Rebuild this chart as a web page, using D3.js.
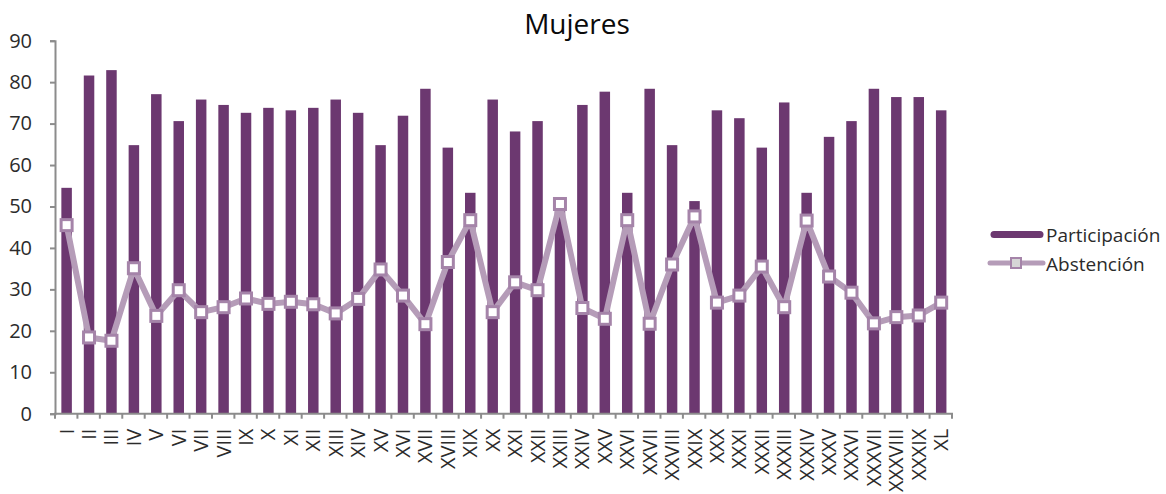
<!DOCTYPE html>
<html>
<head>
<meta charset="utf-8">
<script src="https://cdn.jsdelivr.net/npm/d3@7"></script>
<style>
  html, body { margin: 0; padding: 0; background: #fff; }
  svg { display: block; font-family: "Open Sans", "Noto Sans", sans-serif; }
</style>
</head>
<body>
<svg id="chart" width="1166" height="494"></svg>
<script>
// Distritos electorales (I–XL)
const districts = ["I","II","III","IV","V","VI","VII","VIII","IX","X",
  "XI","XII","XIII","XIV","XV","XVI","XVII","XVIII","XIX","XX",
  "XXI","XXII","XXIII","XXIV","XXV","XXVI","XXVII","XXVIII","XXIX","XXX",
  "XXXI","XXXII","XXXIII","XXXIV","XXXV","XXXVI","XXXVII","XXXVIII","XXXIX","XL"];

// Participación (%) de mujeres por distrito
const participacion = [54.5, 81.6, 82.9, 64.8, 77.1, 70.6, 75.8, 74.5, 72.6, 73.8,
  73.2, 73.8, 75.8, 72.6, 64.8, 71.9, 78.4, 64.2, 53.3, 75.8,
  68.1, 70.6, 49.4, 74.5, 77.7, 53.3, 78.4, 64.8, 51.3, 73.2,
  71.3, 64.2, 75.1, 53.3, 66.8, 70.6, 78.4, 76.4, 76.4, 73.2];

// Abstención (%) de mujeres por distrito
const abstencion = [45.5, 18.4, 17.6, 35.1, 23.6, 29.8, 24.5, 25.7, 27.8, 26.5,
  27.0, 26.4, 24.2, 27.7, 34.8, 28.5, 21.6, 36.6, 46.7, 24.5,
  31.7, 29.8, 50.6, 25.5, 22.9, 46.7, 21.7, 36.0, 47.6, 26.8,
  28.5, 35.5, 25.7, 46.6, 33.1, 29.2, 21.8, 23.3, 23.7, 26.8];

const yTicks = [0, 10, 20, 30, 40, 50, 60, 70, 80, 90];
const seriesNames = ["Participación", "Abstención"];
const title = "Mujeres";

const colors = { bar: "#6c3870", line: "#b59cb8", marker: "#a584a9", axis: "#8c8c8c", text: "#2b2b2b" };

const svg = d3.select("#chart");
const plot = { left: 55, right: 952, top: 40.7, bottom: 413.7 };

const x = d3.scaleBand().domain(districts).range([plot.left, plot.right]).paddingInner(0).paddingOuter(0);
const y = d3.scaleLinear().domain([0, 90]).range([plot.bottom, plot.top]);
const cx = d => x(d) + x.bandwidth() / 2 + 0.4;

const barW = 10.5;

// Barras de participación
svg.append("g")
  .selectAll("rect")
  .data(participacion)
  .join("rect")
  .attr("x", (d, i) => cx(districts[i]) - barW / 2)
  .attr("y", d => y(d))
  .attr("width", barW)
  .attr("height", d => y(0) - y(d))
  .attr("fill", colors.bar);

// Eje Y
const yAxis = svg.append("g")
  .attr("transform", `translate(${plot.left},0)`)
  .call(d3.axisLeft(y).tickValues(yTicks).tickSize(5).tickPadding(18));
yAxis.select(".domain").attr("stroke", colors.axis).attr("stroke-width", 2);
yAxis.selectAll(".tick line").attr("stroke", colors.axis).attr("stroke-width", 2);
yAxis.selectAll(".tick text")
  .attr("fill", colors.text)
  .style("font-size", "20px")
  .style("font-family", "'Open Sans', sans-serif");

// Eje X: ticks en los límites de cada distrito
const xg = svg.append("g");
xg.append("line")
  .attr("x1", plot.left - 1).attr("x2", plot.right + 1)
  .attr("y1", plot.bottom).attr("y2", plot.bottom)
  .attr("stroke", colors.axis).attr("stroke-width", 2);
xg.selectAll("line.tk")
  .data(d3.range(districts.length + 1))
  .join("line")
  .attr("class", "tk")
  .attr("x1", i => plot.left + i * x.bandwidth())
  .attr("x2", i => plot.left + i * x.bandwidth())
  .attr("y1", plot.bottom).attr("y2", plot.bottom + 5)
  .attr("stroke", colors.axis).attr("stroke-width", 2);
xg.selectAll("text")
  .data(districts)
  .join("text")
  .attr("transform", d => `translate(${cx(d) + 7},${plot.bottom + 15}) rotate(-90)`)
  .attr("text-anchor", "end")
  .attr("fill", colors.text)
  .style("font-size", "20px")
  .text(d => d);

// Línea de abstención con marcadores cuadrados
const line = d3.line()
  .x((d, i) => cx(districts[i]))
  .y(d => y(d));
svg.append("path")
  .datum(abstencion)
  .attr("d", line)
  .attr("fill", "none")
  .attr("stroke", colors.line)
  .attr("stroke-width", 6)
  .attr("stroke-linejoin", "round");
const mk = 11;
svg.append("g")
  .selectAll("rect")
  .data(abstencion)
  .join("rect")
  .attr("x", (d, i) => cx(districts[i]) - mk / 2)
  .attr("y", d => y(d) - mk / 2)
  .attr("width", mk).attr("height", mk)
  .attr("fill", "#ffffff")
  .attr("stroke", colors.marker)
  .attr("stroke-width", 3);

// Título
svg.append("text")
  .attr("x", 577).attr("y", 34)
  .attr("text-anchor", "middle")
  .attr("fill", "#0a0a0a")
  .style("font-size", "28px")
  .text(title);

// Leyenda
const lg = svg.append("g");
lg.append("line")
  .attr("x1", 994).attr("x2", 1040).attr("y1", 234.5).attr("y2", 234.5)
  .attr("stroke", colors.bar).attr("stroke-width", 7).attr("stroke-linecap", "round");
lg.append("line")
  .attr("x1", 990).attr("x2", 1043).attr("y1", 263).attr("y2", 263)
  .attr("stroke", colors.line).attr("stroke-width", 5).attr("stroke-linecap", "round");
lg.append("rect")
  .attr("x", 1011).attr("y", 258).attr("width", 10).attr("height", 10)
  .attr("fill", "#d6d6d6").attr("stroke", colors.marker).attr("stroke-width", 2);
lg.selectAll("text")
  .data(seriesNames)
  .join("text")
  .attr("x", 1046)
  .attr("y", (d, i) => 242 + i * 29)
  .attr("fill", colors.text)
  .style("font-size", "19px")
  .text(d => d);
</script>
</body>
</html>
